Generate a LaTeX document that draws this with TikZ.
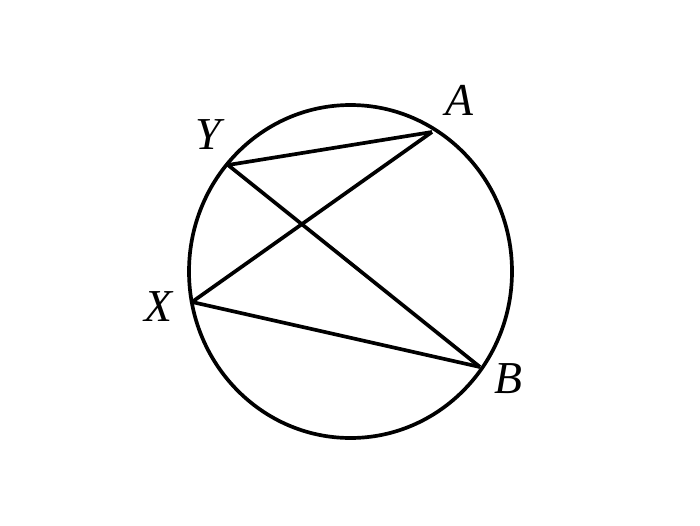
\documentclass[tikz,border=0pt]{standalone}
\usepackage{fontspec}
\setmainfont{Liberation Serif}
\usetikzlibrary{positioning}

\begin{document}
\begin{tikzpicture}[x=0.02cm, y=-0.02cm, line width=2.1pt, line join=round,
  lbl/.style={font=\fontsize{26}{30}\selectfont\itshape, inner sep=0pt}]
\useasboundingbox (0,0) rectangle (700,525);
\draw (350.5,271.5) ellipse [x radius=161.5, y radius=166.5];

\coordinate(A) at (432,132);
\coordinate(Y) at (228,165);
\coordinate(X) at (192,302);
\coordinate(B) at (480,367);

\node(lA)[lbl] at (459,100){A};
\node(lY)[lbl] at (208,135){Y};
\node(lX)[lbl] at (158,307){X};
\node(lB)[lbl] at (508,379){B};

\draw (Y) -- (A);
\draw (A) -- (X);
\draw (X) -- (B);
\draw (B) -- (Y);
\end{tikzpicture}
\end{document}
